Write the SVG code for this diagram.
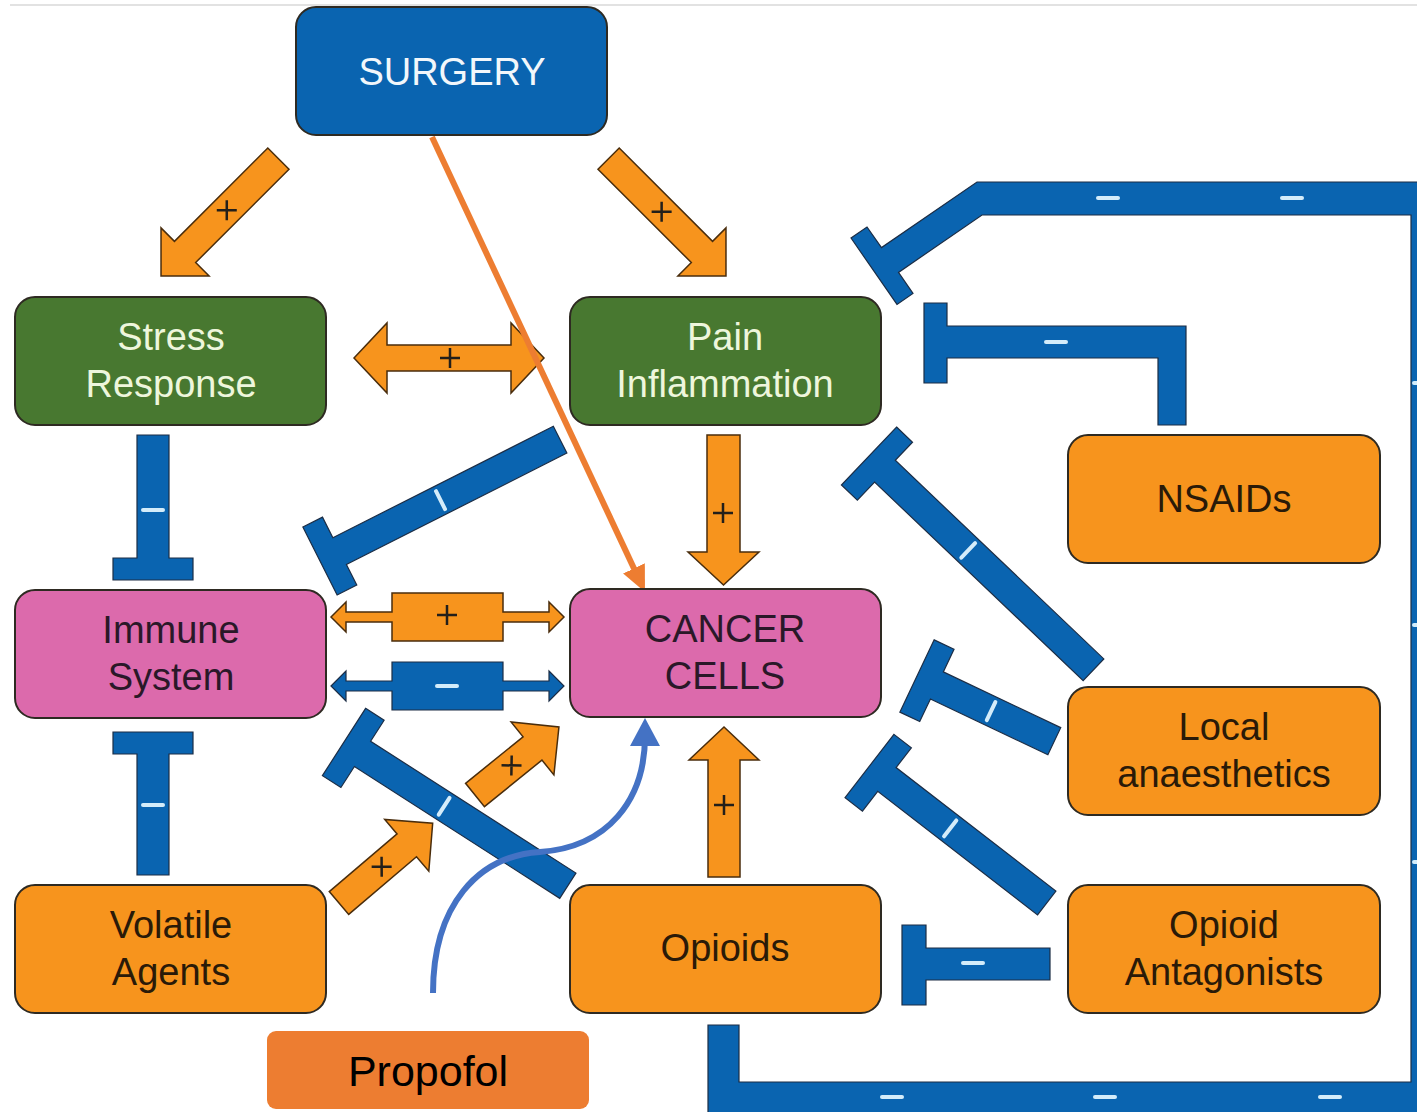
<svg xmlns="http://www.w3.org/2000/svg" width="1417" height="1112" viewBox="0 0 1417 1112">
<defs>
<style>
.blue{fill:#0a64b0;stroke:#1c2d45;stroke-width:1.2}
.orange{fill:#f7941d;stroke:#4a2d0c;stroke-width:1.5}
.box{stroke:#2e2a22;stroke-width:2}
.minus{stroke:#d4ecfa;stroke-width:4;stroke-linecap:round;fill:none}
.plus{stroke:#231f1a;stroke-width:2.5;fill:none}
.t{font-family:"Liberation Sans",Arial,sans-serif;font-size:38px;text-anchor:middle}
.tg{fill:#eef6dc}
.tp{fill:#2a1828}
.to{fill:#2a1a08}
.tw{fill:#f2f7fb}
</style>
<marker id="ah-or" markerUnits="userSpaceOnUse" markerWidth="28" markerHeight="26" refX="10" refY="12" orient="auto">
<path d="M0,0 L26,12 L0,24 Z" fill="#ed7d31"/>
</marker>
<marker id="ah-bl" markerUnits="userSpaceOnUse" markerWidth="28" markerHeight="30" refX="10" refY="15" orient="auto">
<path d="M0,0 L28,15 L0,30 Z" fill="#4472c4"/>
</marker>
</defs>
<rect x="0" y="0" width="1417" height="1112" fill="#ffffff"/>
<line x1="10" y1="5" x2="1417" y2="5" stroke="#e2e2e2" stroke-width="2"/>

<g id="connectors">
  <!-- big frame from bottom to Pain -->
  <path class="blue" d="M851,238 L867,227 L881.5,247.6 L977,182 H1440 V1130 H708 V1025 H739 V1082 H1411 V215 H982 L898.5,272.4 L913,293.4 L897,304.4 Z"/>
  <g class="minus">
    <line x1="1098" y1="198" x2="1118" y2="198"/>
    <line x1="1282" y1="198" x2="1302" y2="198"/>
    <line x1="882" y1="1097" x2="902" y2="1097"/>
    <line x1="1095" y1="1097" x2="1115" y2="1097"/>
    <line x1="1320" y1="1097" x2="1340" y2="1097"/>
    <line x1="1414" y1="383" x2="1420" y2="383"/>
    <line x1="1414" y1="625" x2="1420" y2="625"/>
    <line x1="1414" y1="862" x2="1420" y2="862"/>
  </g>
  <!-- NSAIDs -| Pain -->
  <path class="blue" d="M924,303 H947 V326 H1186 V425 H1158 V358 H947 V383 H924 Z"/>
  <line class="minus" x1="1046" y1="342" x2="1066" y2="342"/>

  <!-- Surgery -> Stress -->
  <g transform="translate(278.4,158.6) rotate(135)">
    <path class="orange" d="M0,-15 H132 V-34 L166,0 L132,34 V15 H0 Z"/>
    <path class="plus" transform="translate(73,0) rotate(-45)" d="M-10,0 H10 M0,-10 V10"/>
  </g>
  <!-- Surgery -> Pain -->
  <g transform="translate(608.6,158.6) rotate(45)">
    <path class="orange" d="M0,-15 H132 V-34 L166,0 L132,34 V15 H0 Z"/>
    <path class="plus" transform="translate(75,0) rotate(-45)" d="M-10,0 H10 M0,-10 V10"/>
  </g>
  <!-- Stress <-> Pain -->
  <path class="orange" d="M354,358 L387,323 V345 H511 V323 L544,358 L511,393 V371 H387 V393 Z"/>
  <path class="plus" d="M440,358 H460 M450,348 V368"/>
  <!-- Pain -> Cancer -->
  <g transform="translate(723.5,435) rotate(90)">
    <path class="orange" d="M0,-16.5 H117 V-35.5 L150,0 L117,35.5 V16.5 H0 Z"/>
  </g>
  <path class="plus" d="M713,513 H733 M723,503 V523"/>
  <!-- Opioids -> Cancer -->
  <g transform="translate(724,877) rotate(-90)">
    <path class="orange" d="M0,-16 H117 V-35 L150,0 L117,35 V16 H0 Z"/>
  </g>
  <path class="plus" d="M714,805 H734 M724,795 V815"/>
  <!-- Volatile -> Cancer (lower) -->
  <g transform="translate(339,903) rotate(-40.4)">
    <path class="orange" d="M0,-15 H89 V-34 L123,0 L89,34 V15 H0 Z"/>
    <path class="plus" transform="translate(56,0) rotate(40)" d="M-10,0 H10 M0,-10 V10"/>
  </g>
  <!-- Volatile -> Cancer (upper) -->
  <g transform="translate(475,795) rotate(-39)">
    <path class="orange" d="M0,-15 H74 V-34 L108,0 L74,34 V15 H0 Z"/>
    <path class="plus" transform="translate(47,0) rotate(40)" d="M-10,0 H10 M0,-10 V10"/>
  </g>
  <!-- Immune <-> Cancer (+) -->
  <path class="orange" d="M331,617 L346,602 V612 H392 V593 H503 V612 H549 V602 L564,617 L549,632 V622 H503 V641 H392 V622 H346 V632 Z"/>
  <path class="plus" d="M437,615 H457 M447,605 V625"/>
  <!-- Immune <-> Cancer (-) -->
  <path class="blue" d="M331,686 L346,671 V681 H392 V662 H503 V681 H549 V671 L564,686 L549,701 V691 H503 V710 H392 V691 H346 V701 Z"/>
  <line class="minus" x1="437" y1="686" x2="457" y2="686"/>

  <!-- Stress -| Immune -->
  <g transform="translate(153,580) rotate(-90)">
    <path class="blue" d="M0,-40 H22 V-16 H145 V16 H22 V40 H0 Z"/>
    <line class="minus" x1="70" y1="-10" x2="70" y2="10"/>
  </g>
  <!-- Volatile -| Immune -->
  <g transform="translate(153,732) rotate(90)">
    <path class="blue" d="M0,-40 H22 V-16 H143 V16 H22 V40 H0 Z"/>
    <line class="minus" x1="73" y1="-10" x2="73" y2="10"/>
  </g>
  <!-- Pain -| Immune -->
  <g transform="translate(320,561) rotate(-26.8)">
    <path class="blue" d="M0,-38 H22 V-15 H269 V15 H22 V38 H0 Z"/>
    <line class="minus" x1="135" y1="-10" x2="135" y2="10"/>
  </g>
  <!-- Opioids -| Immune -->
  <g transform="translate(344,742) rotate(32.7)">
    <path class="blue" d="M0,-40 H22 V-15 H266 V15 H22 V40 H0 Z"/>
    <line class="minus" x1="119" y1="-10" x2="119" y2="10"/>
  </g>
  <!-- Local anaesthetics -| Pain -->
  <g transform="translate(869,456) rotate(43.6)">
    <path class="blue" d="M0,-40 H22 V-15 H310 V15 H22 V40 H0 Z"/>
    <line class="minus" x1="137" y1="-10" x2="137" y2="10"/>
  </g>
  <!-- Local anaesthetics -| Cancer -->
  <g transform="translate(917,676) rotate(25.4)">
    <path class="blue" d="M0,-40 H22 V-15 H152 V15 H22 V40 H0 Z"/>
    <line class="minus" x1="82" y1="-10" x2="82" y2="10"/>
  </g>
  <!-- Opioid Antagonists -| Cancer -->
  <g transform="translate(869.5,766) rotate(37.7)">
    <path class="blue" d="M0,-40 H22 V-15 H224 V15 H22 V40 H0 Z"/>
    <line class="minus" x1="102" y1="-10" x2="102" y2="10"/>
  </g>
  <!-- Opioid Antagonists -| Opioids -->
  <g transform="translate(902,965) rotate(0)">
    <path class="blue" d="M0,-40 H24 V-17 H148 V15 H24 V40 H0 Z"/>
    <line class="minus" x1="61" y1="-2" x2="81" y2="-2"/>
  </g>

  <!-- Surgery -> Cancer (orange line) -->
  <line x1="432" y1="137" x2="638.2" y2="577.5" stroke="#ed7d31" stroke-width="6" marker-end="url(#ah-or)"/>
  <!-- Propofol -> Cancer (blue curve) -->
  <path d="M433,993 C433,905 478,856 540,852 C608,847 645,800 645,736" fill="none" stroke="#4472c4" stroke-width="6" marker-end="url(#ah-bl)"/>
</g>

<g id="surgery">
  <rect class="box" x="296" y="7" width="311" height="128" rx="20" fill="#0a64b0" stroke="#1c2d45"/>
  <text class="t tw" x="452" y="85">SURGERY</text>
</g>
<g id="stress-response">
  <rect class="box" x="15" y="297" width="311" height="128" rx="20" fill="#487830"/>
  <text class="t tg" x="171" y="350">Stress</text>
  <text class="t tg" x="171" y="397">Response</text>
</g>
<g id="pain-inflammation">
  <rect class="box" x="570" y="297" width="311" height="128" rx="20" fill="#487830"/>
  <text class="t tg" x="725" y="350">Pain</text>
  <text class="t tg" x="725" y="397">Inflammation</text>
</g>
<g id="immune-system">
  <rect class="box" x="15" y="590" width="311" height="128" rx="20" fill="#dc6aac"/>
  <text class="t tp" x="171" y="643">Immune</text>
  <text class="t tp" x="171" y="690">System</text>
</g>
<g id="cancer-cells">
  <rect class="box" x="570" y="589" width="311" height="128" rx="20" fill="#dc6aac"/>
  <text class="t tp" x="725" y="642">CANCER</text>
  <text class="t tp" x="725" y="689">CELLS</text>
</g>
<g id="nsaids">
  <rect class="box" x="1068" y="435" width="312" height="128" rx="20" fill="#f7941d"/>
  <text class="t to" x="1224" y="512">NSAIDs</text>
</g>
<g id="local-anaesthetics">
  <rect class="box" x="1068" y="687" width="312" height="128" rx="20" fill="#f7941d"/>
  <text class="t to" x="1224" y="740">Local</text>
  <text class="t to" x="1224" y="787">anaesthetics</text>
</g>
<g id="volatile-agents">
  <rect class="box" x="15" y="885" width="311" height="128" rx="20" fill="#f7941d"/>
  <text class="t to" x="171" y="938">Volatile</text>
  <text class="t to" x="171" y="985">Agents</text>
</g>
<g id="opioids">
  <rect class="box" x="570" y="885" width="311" height="128" rx="20" fill="#f7941d"/>
  <text class="t to" x="725" y="961">Opioids</text>
</g>
<g id="opioid-antagonists">
  <rect class="box" x="1068" y="885" width="312" height="128" rx="20" fill="#f7941d"/>
  <text class="t to" x="1224" y="938">Opioid</text>
  <text class="t to" x="1224" y="985">Antagonists</text>
</g>
<g id="propofol">
  <rect x="267" y="1031" width="322" height="78" rx="9" fill="#ed7d31"/>
  <text x="428" y="1086" font-family="Liberation Sans, Arial, sans-serif" font-size="43" text-anchor="middle" fill="#000000">Propofol</text>
</g>
</svg>
